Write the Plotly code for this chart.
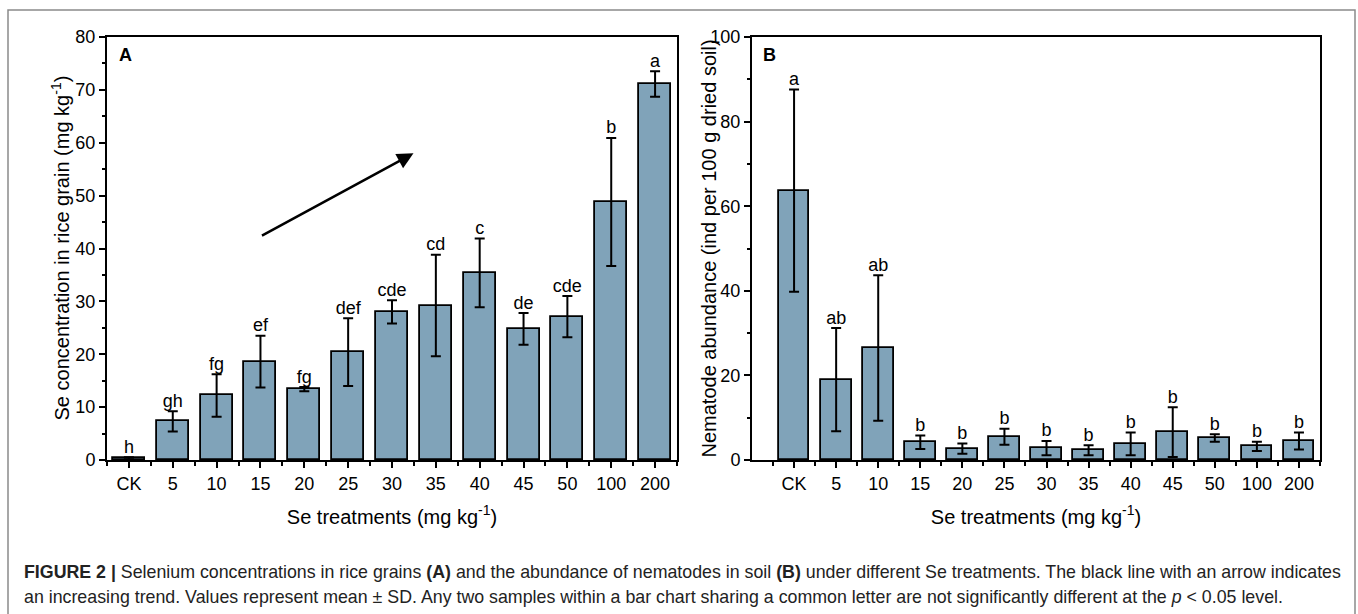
import plotly.graph_objects as go

categories = ["CK", "5", "10", "15", "20", "25", "30", "35", "40", "45", "50", "100", "200"]

se_mean = [0.3, 7.3, 12.2, 18.6, 13.4, 20.4, 28.0, 29.2, 35.4, 24.8, 27.1, 48.8, 71.1]
se_sd = [0.2, 1.9, 4.0, 4.9, 0.4, 6.4, 2.2, 9.6, 6.5, 3.0, 3.9, 12.1, 2.4]
se_letters = ["h", "gh", "fg", "ef", "fg", "def", "cde", "cd", "c", "de", "cde", "b", "a"]

nem_mean = [63.7, 19.0, 26.5, 4.2, 2.7, 5.5, 2.8, 2.3, 3.8, 6.6, 5.2, 3.2, 4.5]
nem_sd = [23.9, 12.2, 17.2, 1.6, 1.2, 1.9, 1.7, 1.2, 2.7, 5.9, 0.9, 1.1, 2.0]
nem_letters = ["a", "ab", "ab", "b", "b", "b", "b", "b", "b", "b", "b", "b", "b"]

# arrow (trend) in panel A data coords: start (x, y) -> end (x, y)
arrow_start = (3.0, 42.3)
arrow_end = (6.49, 58.0)

xpos = list(range(len(categories)))
BAR = "#80a3b9"
FONT = "Liberation Sans, Arial, sans-serif"

fig = go.Figure()

def add_panel(mean, sd, letters, xa, ya):
    fig.add_trace(go.Bar(
        x=xpos, y=mean, width=0.73, marker=dict(color=BAR, line=dict(color="black", width=1.8)),
        error_y=dict(type="data", array=sd, visible=True, color="black", thickness=2, width=5),
        xaxis=xa, yaxis=ya, showlegend=False, hoverinfo="skip"))
    fig.add_trace(go.Scatter(
        x=xpos, y=[m + s for m, s in zip(mean, sd)], mode="text", text=letters,
        textposition="top center", textfont=dict(size=18, color="black", family=FONT),
        xaxis=xa, yaxis=ya, showlegend=False, hoverinfo="skip"))

add_panel(se_mean, se_sd, se_letters, "x", "y")
add_panel(nem_mean, nem_sd, nem_letters, "x2", "y2")

ydom = [1 - 460 / 614, 1 - 37 / 614]
axis_common = dict(showline=True, linecolor="black", linewidth=2, mirror=True, showgrid=False,
                   zeroline=False, ticks="outside", ticklen=6, tickwidth=1.8, tickcolor="black",
                   automargin=False,
                   tickfont=dict(size=18, color="black", family=FONT))

fig.update_layout(
    width=1358, height=614, margin=dict(l=0, r=0, t=0, b=0),
    paper_bgcolor="white", plot_bgcolor="white", bargap=0,
    font=dict(family=FONT, color="black"),
    xaxis=dict(domain=[107 / 1358, 677 / 1358], range=[-0.5, 12.5], tickmode="array",
               tickvals=xpos, ticktext=categories,
               minor=dict(ticks="outside", ticklen=3.5, tick0=0.5, dtick=1, tickwidth=1.5, tickcolor="black"),
               title=dict(text="Se treatments (mg kg<sup>-1</sup>)", font=dict(size=20), standoff=17),
               **axis_common),
    yaxis=dict(domain=ydom, range=[0, 80], tickmode="linear", tick0=0, dtick=10,
               minor=dict(ticks="outside", ticklen=3.5, dtick=5, tickwidth=1.5, tickcolor="black"),
               anchor="x", **axis_common),
    xaxis2=dict(domain=[752 / 1358, 1320 / 1358], range=[-1, 12.5], tickmode="array",
                tickvals=xpos, ticktext=categories,
                minor=dict(ticks="outside", ticklen=3.5, tick0=0.5, dtick=1, tickwidth=1.5, tickcolor="black"),
                title=dict(text="Se treatments (mg kg<sup>-1</sup>)", font=dict(size=20), standoff=17),
                anchor="y2", **axis_common),
    yaxis2=dict(domain=ydom, range=[0, 100], tickmode="linear", tick0=0, dtick=20,
                minor=dict(ticks="outside", ticklen=3.5, dtick=10, tickwidth=1.5, tickcolor="black"),
                anchor="x2", **axis_common),
)

ymid = (ydom[0] + ydom[1]) / 2
# y-axis titles
fig.add_annotation(text="Se concentration in rice grain (mg kg<sup>-1</sup>)", textangle=-90,
                   x=60 / 1358, y=ymid, xref="paper", yref="paper", xanchor="center", yanchor="middle",
                   showarrow=False, font=dict(size=20, color="black"))
fig.add_annotation(text="Nematode abundance (ind per 100 g dried soil)", textangle=-90,
                   x=708 / 1358, y=ymid, xref="paper", yref="paper", xanchor="center", yanchor="middle",
                   showarrow=False, font=dict(size=20, color="black"))

# panel letters
fig.add_annotation(text="<b>A</b>", x=-0.5, y=80, xref="x", yref="y", xanchor="left", yanchor="top",
                   xshift=10, yshift=-6, showarrow=False, font=dict(size=18, color="black"))
fig.add_annotation(text="<b>B</b>", x=-1, y=100, xref="x2", yref="y2", xanchor="left", yanchor="top",
                   xshift=9, yshift=-6, showarrow=False, font=dict(size=18, color="black"))

# trend arrow
fig.add_annotation(x=arrow_end[0], y=arrow_end[1], ax=arrow_start[0], ay=arrow_start[1],
                   xref="x", yref="y", axref="x", ayref="y", showarrow=True, text="",
                   arrowhead=2, arrowsize=1.3, arrowwidth=2.5, arrowcolor="black")

# figure frame
fig.add_shape(type="rect", xref="paper", yref="paper", x0=8 / 1358, x1=1355 / 1358, y0=-0.05, y1=1 - 10 / 614,
              line=dict(color="#8a8a8a", width=1.5), fillcolor="rgba(0,0,0,0)")

# caption
CAP = "Liberation Sans, Arial, sans-serif"
line1 = ("<b>FIGURE 2 |</b> Selenium concentrations in rice grains <b>(A)</b> and the abundance of nematodes in soil "
         "<b>(B)</b> under different Se treatments. The black line with an arrow indicates")
line2 = ("an increasing trend. Values represent mean \u00b1 SD. Any two samples within a bar chart sharing a common "
         "letter are not significantly different at the <i>p</i> &lt; 0.05 level.")
fig.add_annotation(text=line1, x=22 / 1358, y=1 - 572 / 614, xref="paper", yref="paper", xanchor="left",
                   yanchor="middle", showarrow=False, font=dict(size=17.8, color="#222", family=CAP))
fig.add_annotation(text=line2, x=22 / 1358, y=1 - 597 / 614, xref="paper", yref="paper", xanchor="left",
                   yanchor="middle", showarrow=False, font=dict(size=17.8, color="#222", family=CAP))

fig.write_html("out.html")
